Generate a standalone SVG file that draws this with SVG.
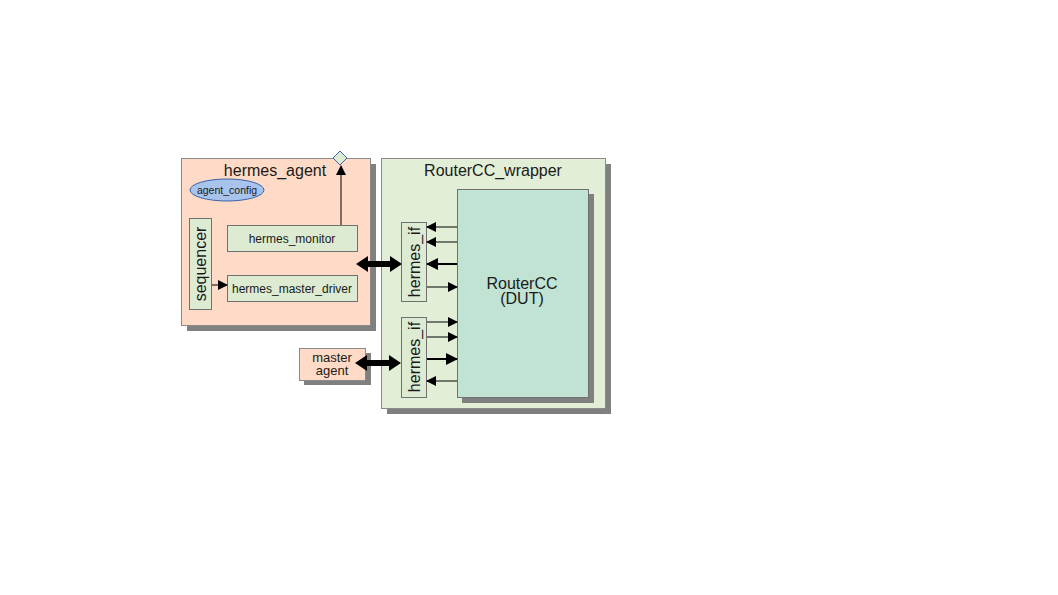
<svg xmlns="http://www.w3.org/2000/svg" width="1058" height="595" viewBox="0 0 1058 595">
<defs>
<style>
.shadow{fill:#808080}
.peach{fill:#ffdac6;stroke:#8a8a8a;stroke-width:1}
.wrap{fill:#e2eed6;stroke:#8a8a8a;stroke-width:1}
.blk{fill:#dcebd2;stroke:#707070;stroke-width:1}
.dut{fill:#c0e3d3;stroke:#707070;stroke-width:1}
text{font-family:"Liberation Sans",Arial,sans-serif;fill:#1a1a1a}
.t16{font-size:16px}
.t13{font-size:13px}
.t12{font-size:12px}
.t11{font-size:10.5px}
.ln{stroke:#000;stroke-width:1;fill:none}
.lnb{stroke:#000;stroke-width:2;fill:none}
</style>
<marker id="ah" markerWidth="10" markerHeight="10" refX="9" refY="5" orient="auto" markerUnits="userSpaceOnUse">
<path d="M0,0 L10,5 L0,10 Z" fill="#000"/>
</marker>
<marker id="ahb" markerWidth="12" markerHeight="12" refX="11" refY="6" orient="auto" markerUnits="userSpaceOnUse">
<path d="M0,0 L12,6 L0,12 Z" fill="#000"/>
</marker>
</defs>
<rect width="1058" height="595" fill="#fff"/>

<g id="hermes_agent">
<rect class="shadow" x="187" y="164" width="189" height="167"/>
<rect class="peach" x="181.5" y="158.5" width="189" height="167"/>
<text class="t16" x="275" y="176" text-anchor="middle">hermes_agent</text>
</g>

<g id="agent_config">
<ellipse cx="227" cy="190" rx="37" ry="11" fill="#a8c4ec" stroke="#3a64a8" stroke-width="1"/>
<text class="t11" x="227" y="194" text-anchor="middle">agent_config</text>
</g>

<g id="analysis_port">
<path d="M340,151 L347,158 L340,165 L333,158 Z" fill="#dcebd2" stroke="#3a64a8" stroke-width="1"/>
</g>

<g id="sequencer">
<rect class="blk" x="189.5" y="218.5" width="22" height="91"/>
<text class="t16" transform="translate(206,264) rotate(-90)" text-anchor="middle">sequencer</text>
</g>

<g id="hermes_monitor">
<rect class="blk" x="227.5" y="225.5" width="130" height="26"/>
<text class="t12" x="292" y="243" text-anchor="middle">hermes_monitor</text>
</g>

<g id="hermes_master_driver">
<rect class="blk" x="227.5" y="275.5" width="130" height="26"/>
<text class="t12" x="292" y="293" text-anchor="middle">hermes_master_driver</text>
</g>

<g id="master_agent">
<rect class="shadow" x="304" y="353" width="67" height="32"/>
<rect class="peach" x="299.5" y="348.5" width="66" height="32"/>
<text class="t13" x="332" y="362" text-anchor="middle">master</text>
<text class="t13" x="332" y="375" text-anchor="middle">agent</text>
</g>

<g id="RouterCC_wrapper">
<rect class="shadow" x="387" y="164" width="224" height="250"/>
<rect class="wrap" x="381.5" y="158.5" width="224" height="250"/>
<text class="t16" x="493" y="176" text-anchor="middle">RouterCC_wrapper</text>
</g>

<g id="RouterCC">
<rect class="shadow" x="462" y="194" width="132" height="209"/>
<rect class="dut" x="457.5" y="189.5" width="131" height="208"/>
<text class="t16" x="522" y="289" text-anchor="middle">RouterCC</text>
<text class="t16" x="522" y="304" text-anchor="middle">(DUT)</text>
</g>

<g id="hermes_if_1">
<rect class="blk" x="401.5" y="222.5" width="25" height="79"/>
<text class="t16" transform="translate(420,262) rotate(-90)" text-anchor="middle">hermes_if</text>
</g>

<g id="hermes_if_2">
<rect class="blk" x="401.5" y="317.5" width="25" height="80"/>
<text class="t16" transform="translate(420,357) rotate(-90)" text-anchor="middle">hermes_if</text>
</g>

<g id="connectors">
<line class="ln" x1="341" y1="225" x2="341" y2="166" marker-end="url(#ah)"/>
<line class="ln" x1="212" y1="285" x2="227" y2="285" marker-end="url(#ah)"/>
<path d="M356,264 L368,256 L368,261 L390,261 L390,256 L402,264 L390,272 L390,267 L368,267 L368,272 Z" fill="#000"/>
<path d="M355,363 L367,355 L367,360 L389,360 L389,355 L401,363 L389,371 L389,366 L367,366 L367,371 Z" fill="#000"/>
<line class="ln" x1="457" y1="227" x2="427" y2="227" marker-end="url(#ah)"/>
<line class="ln" x1="457" y1="242" x2="427" y2="242" marker-end="url(#ah)"/>
<line class="lnb" x1="457" y1="264" x2="427" y2="264" marker-end="url(#ahb)"/>
<line class="ln" x1="427" y1="287" x2="457" y2="287" marker-end="url(#ah)"/>
<line class="ln" x1="427" y1="322" x2="457" y2="322" marker-end="url(#ah)"/>
<line class="ln" x1="427" y1="337" x2="457" y2="337" marker-end="url(#ah)"/>
<line class="lnb" x1="427" y1="359" x2="457" y2="359" marker-end="url(#ahb)"/>
<line class="ln" x1="457" y1="381" x2="427" y2="381" marker-end="url(#ah)"/>
</g>
</svg>
